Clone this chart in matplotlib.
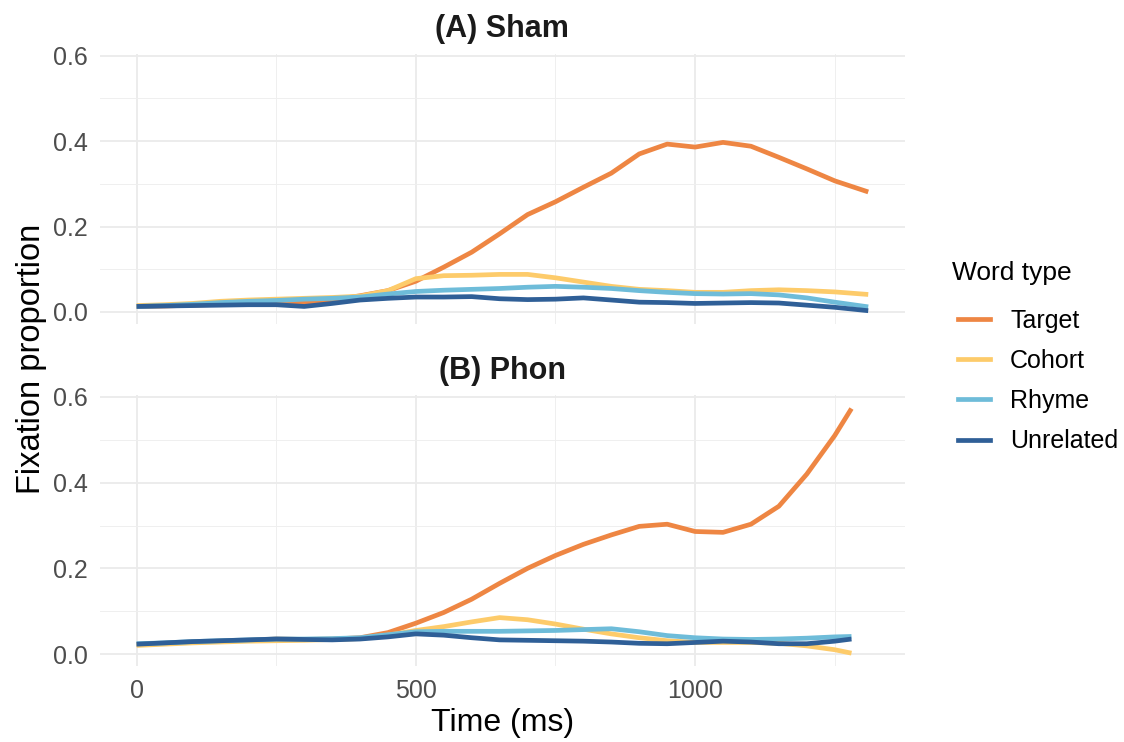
import numpy as np
import matplotlib.pyplot as plt
from matplotlib.lines import Line2D

plt.rcParams['font.family'] = ['Liberation Sans', 'DejaVu Sans']

word_types = ['Target', 'Cohort', 'Rhyme', 'Unrelated']
colors = ['#EE8643', '#FDCB6A', '#6EBCD9', '#2F5F97']

# (A) Sham
sham_time = [0, 50, 100, 150, 200, 250, 300, 350, 400, 450, 500, 550, 600, 650,
             700, 750, 800, 850, 900, 950, 1000, 1050, 1100, 1150, 1200, 1250, 1310]
sham_target = [0.013, 0.014, 0.016, 0.018, 0.020, 0.022, 0.022, 0.028, 0.038, 0.050,
               0.072, 0.105, 0.140, 0.183, 0.228, 0.258, 0.292, 0.325, 0.370, 0.393,
               0.386, 0.397, 0.388, 0.362, 0.335, 0.307, 0.281]
sham_cohort = [0.015, 0.017, 0.020, 0.025, 0.028, 0.030, 0.032, 0.034, 0.037, 0.050,
               0.078, 0.085, 0.086, 0.088, 0.088, 0.080, 0.070, 0.060, 0.053, 0.050,
               0.046, 0.046, 0.050, 0.052, 0.050, 0.047, 0.041]
sham_rhyme = [0.013, 0.015, 0.018, 0.022, 0.025, 0.027, 0.030, 0.032, 0.035, 0.042,
              0.048, 0.051, 0.053, 0.055, 0.058, 0.060, 0.058, 0.055, 0.050, 0.046,
              0.043, 0.042, 0.043, 0.040, 0.033, 0.023, 0.012]
sham_unrelated = [0.013, 0.014, 0.015, 0.016, 0.017, 0.017, 0.013, 0.020, 0.028, 0.032,
                  0.035, 0.035, 0.036, 0.031, 0.029, 0.030, 0.033, 0.028, 0.023, 0.022,
                  0.020, 0.021, 0.022, 0.021, 0.016, 0.011, 0.003]

# (B) Phon
phon_time = [0, 50, 100, 150, 200, 250, 300, 350, 400, 450, 500, 550, 600, 650,
             700, 750, 800, 850, 900, 950, 1000, 1050, 1100, 1150, 1200, 1250, 1280]
phon_target = [0.022, 0.025, 0.028, 0.030, 0.032, 0.035, 0.034, 0.035, 0.038, 0.050,
               0.072, 0.097, 0.128, 0.165, 0.200, 0.230, 0.256, 0.278, 0.298, 0.303,
               0.286, 0.284, 0.303, 0.345, 0.420, 0.510, 0.573]
phon_cohort = [0.020, 0.023, 0.026, 0.028, 0.030, 0.031, 0.032, 0.034, 0.036, 0.044,
               0.055, 0.064, 0.075, 0.085, 0.080, 0.070, 0.058, 0.047, 0.038, 0.031,
               0.027, 0.027, 0.027, 0.025, 0.019, 0.010, 0.002]
phon_rhyme = [0.024, 0.026, 0.029, 0.031, 0.033, 0.035, 0.035, 0.036, 0.038, 0.045,
              0.052, 0.053, 0.053, 0.053, 0.054, 0.055, 0.057, 0.059, 0.052, 0.043,
              0.038, 0.035, 0.034, 0.035, 0.037, 0.040, 0.041]
phon_unrelated = [0.023, 0.026, 0.029, 0.031, 0.033, 0.035, 0.034, 0.033, 0.035, 0.040,
                  0.047, 0.044, 0.038, 0.033, 0.032, 0.031, 0.030, 0.028, 0.025, 0.024,
                  0.027, 0.030, 0.028, 0.024, 0.024, 0.030, 0.035]

panels = [
    ('(A) Sham', sham_time, [sham_target, sham_cohort, sham_rhyme, sham_unrelated]),
    ('(B) Phon', phon_time, [phon_target, phon_cohort, phon_rhyme, phon_unrelated]),
]

fig = plt.figure(figsize=(11.24, 7.42), dpi=100)
ax_top = fig.add_axes([0.089, 0.563, 0.716, 0.364])
ax_bot = fig.add_axes([0.089, 0.102, 0.716, 0.365])

for ax, (title, t, series) in zip([ax_top, ax_bot], panels):
    for vals, c in zip(series, colors):
        ax.plot(t, vals, color=c, lw=3.4, solid_capstyle='butt', solid_joinstyle='round')
    ax.set_xlim(-65.5, 1375.5)
    ax.set_ylim(-0.0287, 0.6035)
    ax.set_xticks([0, 500, 1000])
    ax.set_xticks([250, 750, 1250], minor=True)
    ax.set_yticks([0.0, 0.2, 0.4, 0.6])
    ax.set_yticks([0.1, 0.3, 0.5], minor=True)
    ax.set_yticklabels(['0.0', '0.2', '0.4', '0.6'])
    ax.grid(which='major', color='#EBEBEB', lw=1.3)
    ax.grid(which='minor', color='#EFEFEF', lw=0.7)
    ax.set_axisbelow(True)
    for s in ax.spines.values():
        s.set_visible(False)
    ax.tick_params(which='both', length=0, labelsize=18, labelcolor='#4D4D4D', pad=9)
    ax.set_title(title, fontsize=22, fontweight='bold', pad=12, color='#1A1A1A')

ax_top.tick_params(axis='x', labelbottom=False)
ax_bot.set_xlabel('Time (ms)', fontsize=23, labelpad=4)

fig.text(0.028, 0.517, 'Fixation proportion', rotation=90, fontsize=23.5,
         ha='center', va='center')

# legend: title as separate text, entries below
fig.text(0.847, 0.632, 'Word type', fontsize=19, ha='left', va='center')
handles = [Line2D([0], [0], color=c, lw=3.4) for c in colors]
fig.legend(handles, word_types, loc='center left',
           bbox_to_anchor=(0.852, 0.4865), frameon=False, fontsize=18,
           handlelength=1.3, labelspacing=0.65, handletextpad=0.8,
           borderpad=0, borderaxespad=0)

fig.savefig('out.png', dpi=100)
